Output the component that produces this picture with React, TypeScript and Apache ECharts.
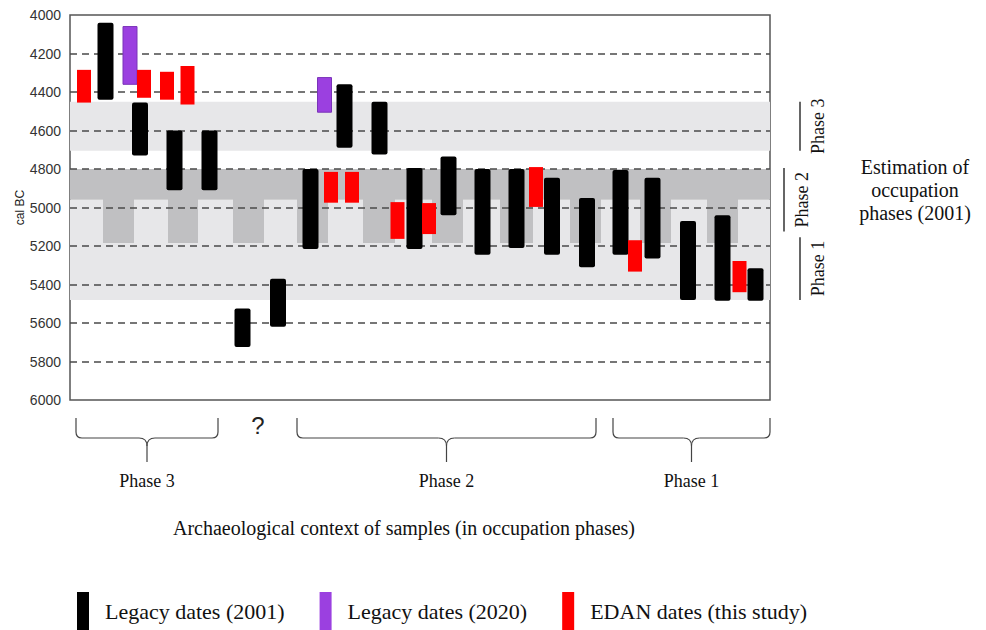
import React, { useEffect, useRef } from "react";
import * as echarts from "echarts";

// Horizontal position of each sample (arbitrary units 0–700 across the plot) and its date range (cal BC)
const legacy2001X = [35.5, 70, 104.5, 139.5, 172.5, 208, 240.5, 274.5, 309.5, 344.5, 378.5, 412.5, 446.5, 482, 517, 550.5, 582.5, 618, 652.5, 685.5];
const legacy2001From = [4040, 4455, 4600, 4600, 5525, 5370, 4800, 4360, 4450, 4795, 4735, 4800, 4800, 4845, 4950, 4805, 4845, 5070, 5040, 5315];
const legacy2001To = [4440, 4730, 4910, 4910, 5725, 5620, 5215, 4690, 4725, 5215, 5040, 5245, 5210, 5245, 5310, 5245, 5265, 5480, 5485, 5485];

const legacy2020X = [60, 254.5];
const legacy2020From = [4060, 4325];
const legacy2020To = [4360, 4505];

const edanX = [14, 74, 97, 117.5, 261, 282, 327.5, 359, 466, 565, 669.5];
const edanFrom = [4285, 4285, 4295, 4265, 4815, 4815, 4972, 4977, 4790, 5170, 5278];
const edanTo = [4455, 4430, 4440, 4465, 4975, 4975, 5163, 5138, 4997, 5333, 5440];

// Shaded occupation-phase background: [xFrom, xTo, yearFrom, yearTo]
const lightBands = [
  [0, 700, 4450, 4705],
  [0, 700, 4960, 5480],
];
const darkBands = [[0, 700, 4800, 4960]];
const tabFrom = [33, 98, 163, 227, 293, 362, 430, 500, 570, 637];
const tabTo = [64, 128, 194, 258, 325, 393, 463, 531, 601, 668];
const tabYears = [4955, 5185];

// Estimation of occupation phases (2001), right-hand annotation
const estimateNames = ["Phase 3", "Phase 2", "Phase 1"];
const estimateX = [730, 714, 730];
const estimateFrom = [4450, 4795, 5155];
const estimateTo = [4705, 5125, 5480];

// Archaeological context brackets under the axis
const contextNames = ["Phase 3", "Phase 2", "Phase 1"];
const contextFrom = [6, 227, 543];
const contextTo = [148, 526, 700];

const SERIF = '"Liberation Serif", "Times New Roman", serif';
const SANS = '"Liberation Sans", Arial, sans-serif';

const LIGHT = "#e7e7e9";
const DARK = "#c0c0c2";

function barRender(width: number, color: string, radius: number, stroke?: string) {
  return (params: any, api: any) => {
    const x = api.value(0);
    const p0 = api.coord([x, api.value(1)]);
    const p1 = api.coord([x, api.value(2)]);
    const w = api.size([width, 0])[0];
    return {
      type: "rect",
      shape: { x: p0[0] - w / 2, y: p0[1], width: w, height: p1[1] - p0[1], r: radius },
      style: { fill: color, stroke: stroke || null, lineWidth: stroke ? 1 : 0 },
    };
  };
}

export default function App() {
  const ref = useRef<HTMLDivElement>(null);

  useEffect(() => {
    if (!ref.current) return;
    const chart = echarts.init(ref.current, null, { renderer: "svg" });

    const bandData: number[][] = [];
    lightBands.forEach((b) => bandData.push([...b, 0]));
    darkBands.forEach((b) => bandData.push([...b, 1]));
    tabFrom.forEach((f, i) => bandData.push([f, tabTo[i], tabYears[0], tabYears[1], 1]));

    const option: any = {
      animation: false,
      backgroundColor: "#ffffff",
      grid: {
        left: 70,
        top: 15,
        width: 700,
        height: 385,
        show: true,
        borderColor: "#555",
        borderWidth: 1.5,
        backgroundColor: "transparent",
      },
      xAxis: {
        type: "value",
        min: 0,
        max: 700,
        axisLine: { show: false },
        axisTick: { show: false },
        axisLabel: { show: false },
        splitLine: { show: false },
        name: "Archaeological context of samples (in occupation phases)",
        nameLocation: "middle",
        nameGap: 118,
        nameTextStyle: { fontFamily: SERIF, fontSize: 20, color: "#111", padding: [0, 32, 0, 0] },
      },
      yAxis: {
        type: "value",
        inverse: true,
        min: 4000,
        max: 6000,
        interval: 200,
        z: 3,
        axisLine: { show: false },
        axisTick: { show: false },
        axisLabel: {
          fontFamily: SANS,
          fontSize: 14,
          color: "#333",
          margin: 9,
          formatter: (v: number) => String(v),
        },
        splitLine: {
          show: true,
          showMinLine: false,
          showMaxLine: false,
          lineStyle: { color: "#4a4a4a", width: 1.5, type: [7, 5] },
        },
        name: "cal BC",
        nameLocation: "middle",
        nameGap: 44,
        nameMoveOverlap: false,
        nameTextStyle: { fontFamily: SANS, fontSize: 12, color: "#222" },
      },
      legend: {
        left: 77,
        top: 592,
        padding: 0,
        itemWidth: 12,
        itemHeight: 38,
        itemGap: 35,
        selectedMode: false,
        textStyle: { fontFamily: SERIF, fontSize: 22, color: "#111", padding: [0, 0, 0, 11] },
        data: [
          { name: "Legacy dates (2001)", icon: "rect" },
          { name: "Legacy dates (2020)", icon: "rect" },
          { name: "EDAN dates (this study)", icon: "rect" },
        ],
      },
      graphic: [
        {
          type: "text",
          x: 258,
          y: 425,
          style: {
            text: "?",
            font: `24px ${SANS}`,
            fill: "#222",
            align: "center",
            verticalAlign: "middle",
            textAlign: "center",
            textVerticalAlign: "middle",
          },
        },
        {
          type: "text",
          x: 915,
          y: 190,
          style: {
            text: "Estimation of\noccupation\nphases (2001)",
            font: `20px ${SERIF}`,
            fill: "#111",
            lineHeight: 23,
            align: "center",
            verticalAlign: "middle",
            textAlign: "center",
            textVerticalAlign: "middle",
          },
        },
      ],
      series: [
        {
          type: "custom",
          name: "bands",
          silent: true,
          z: 1,
          clip: true,
          encode: { x: [0, 1], y: [2, 3] },
          data: bandData,
          renderItem: (params: any, api: any) => {
            const p0 = api.coord([api.value(0), api.value(2)]);
            const p1 = api.coord([api.value(1), api.value(3)]);
            return {
              type: "rect",
              shape: { x: p0[0], y: p0[1], width: p1[0] - p0[0], height: p1[1] - p0[1] },
              style: { fill: api.value(4) === 1 ? DARK : LIGHT },
            };
          },
        },
        {
          type: "custom",
          name: "Legacy dates (2001)",
          z: 5,
          itemStyle: { color: "#000000" },
          encode: { x: 0, y: [1, 2] },
          data: legacy2001X.map((x, i) => [x, legacy2001From[i], legacy2001To[i]]),
          renderItem: barRender(16, "#000000", 2),
        },
        {
          type: "custom",
          name: "Legacy dates (2020)",
          z: 5,
          itemStyle: { color: "#9b40e0" },
          encode: { x: 0, y: [1, 2] },
          data: legacy2020X.map((x, i) => [x, legacy2020From[i], legacy2020To[i]]),
          renderItem: barRender(14, "#9b40e0", 0, "#7a34b8"),
        },
        {
          type: "custom",
          name: "EDAN dates (this study)",
          z: 5,
          itemStyle: { color: "#ff0000" },
          encode: { x: 0, y: [1, 2] },
          data: edanX.map((x, i) => [x, edanFrom[i], edanTo[i]]),
          renderItem: barRender(14, "#ff0000", 0),
        },
        {
          type: "custom",
          name: "estimates",
          silent: true,
          clip: false,
          z: 5,
          data: estimateX.map((x, i) => [x, estimateFrom[i], estimateTo[i]]),
          renderItem: (params: any, api: any) => {
            const p0 = api.coord([api.value(0), api.value(1)]);
            const p1 = api.coord([api.value(0), api.value(2)]);
            return {
              type: "group",
              children: [
                {
                  type: "line",
                  shape: { x1: p0[0], y1: p0[1], x2: p0[0], y2: p1[1] },
                  style: { stroke: "#333", lineWidth: 1.5 },
                },
                {
                  type: "text",
                  x: p0[0] + 18,
                  y: (p0[1] + p1[1]) / 2,
                  rotation: Math.PI / 2,
                  style: {
                    text: estimateNames[params.dataIndex],
                    font: `18px ${SERIF}`,
                    fill: "#111",
                    align: "center",
                    verticalAlign: "middle",
                    textAlign: "center",
                    textVerticalAlign: "middle",
                  },
                },
              ],
            };
          },
        },
        {
          type: "custom",
          name: "contexts",
          silent: true,
          clip: false,
          z: 5,
          data: contextFrom.map((f, i) => [f, contextTo[i]]),
          renderItem: (params: any, api: any) => {
            const a = api.coord([api.value(0), 6000]);
            const b = api.coord([api.value(1), 6000]);
            const base = a[1];
            const top = base + 18;
            const mid = base + 38;
            const stem = base + 62;
            const xa = a[0];
            const xb = b[0];
            const xm = (xa + xb) / 2;
            const st = { stroke: "#444", lineWidth: 1.2, fill: null };
            const r = 6;
            return {
              type: "group",
              children: [
                { type: "line", shape: { x1: xa, y1: top, x2: xa, y2: mid - r }, style: st },
                { type: "bezierCurve", shape: { x1: xa, y1: mid - r, cpx1: xa, cpy1: mid, x2: xa + r, y2: mid }, style: st },
                { type: "line", shape: { x1: xa + r, y1: mid, x2: xm - 8, y2: mid }, style: st },
                { type: "bezierCurve", shape: { x1: xm - 8, y1: mid, cpx1: xm, cpy1: mid, x2: xm, y2: mid + 8 }, style: st },
                { type: "bezierCurve", shape: { x1: xm + 8, y1: mid, cpx1: xm, cpy1: mid, x2: xm, y2: mid + 8 }, style: st },
                { type: "line", shape: { x1: xm, y1: mid + 8, x2: xm, y2: stem }, style: st },
                { type: "line", shape: { x1: xm + 8, y1: mid, x2: xb - r, y2: mid }, style: st },
                { type: "bezierCurve", shape: { x1: xb - r, y1: mid, cpx1: xb, cpy1: mid, x2: xb, y2: mid - r }, style: st },
                { type: "line", shape: { x1: xb, y1: mid - r, x2: xb, y2: top }, style: st },
                {
                  type: "text",
                  x: xm,
                  y: base + 81,
                  style: {
                    text: contextNames[params.dataIndex],
                    font: `18px ${SERIF}`,
                    fill: "#111",
                    align: "center",
                    verticalAlign: "middle",
                    textAlign: "center",
                    textVerticalAlign: "middle",
                  },
                },
              ],
            };
          },
        },
      ],
    };

    chart.setOption(option);
    return () => {
      chart.dispose();
    };
  }, []);

  return (
    <div
      ref={ref}
      style={{ position: "absolute", left: 0, top: 0, width: 986, height: 630, background: "#fff" }}
    />
  );
}
